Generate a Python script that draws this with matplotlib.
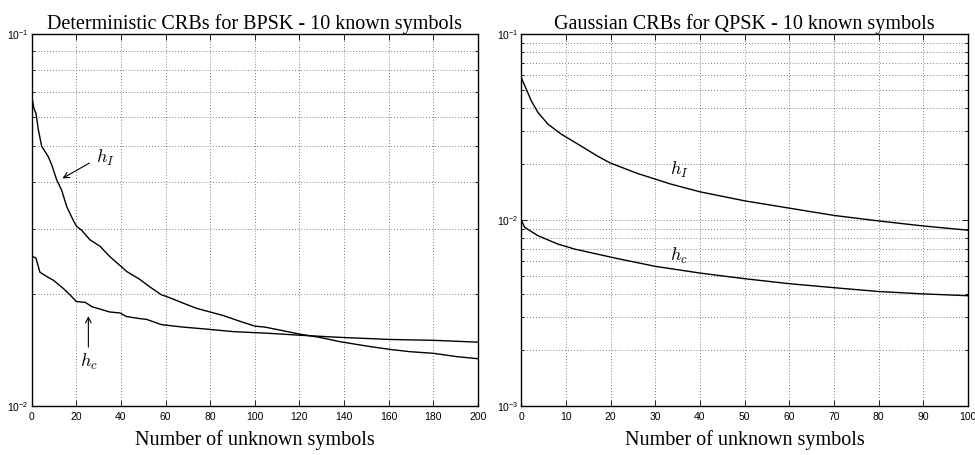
import numpy as np
import matplotlib
matplotlib.use("Agg")
import matplotlib.pyplot as plt
from matplotlib.ticker import FuncFormatter, NullFormatter, LogLocator, MultipleLocator

plt.rcParams['mathtext.fontset'] = 'cm'
plt.rcParams['font.family'] = ['Liberation Sans', 'DejaVu Sans']

# Left: Deterministic CRBs for BPSK
det_x_hI = [0, 1.0, 1.9, 3.0, 4.5, 7.4, 9.0, 11.2, 13.4, 15.7, 18.6, 20.2, 22.4, 26.1, 30.6, 35.1,
            39.5, 42.6, 48.5, 53, 58.2, 60.5, 68, 74, 80, 86, 93.3, 100, 104.6, 111.3, 120.3, 129,
            138, 150, 160.5, 169.5, 180, 190.4, 200]
det_hI = [0.068, 0.0632, 0.0613, 0.0553, 0.0499, 0.0469, 0.0445, 0.0406, 0.0381, 0.0344, 0.0316,
          0.0304, 0.0297, 0.0280, 0.0269, 0.0252, 0.0239, 0.0230, 0.0219, 0.0209, 0.0199, 0.0197,
          0.0189, 0.0183, 0.0179, 0.0175, 0.0169, 0.0164, 0.0163, 0.0160, 0.0156, 0.0153, 0.0149,
          0.0145, 0.0142, 0.0140, 0.01386, 0.01358, 0.0134]
det_x_hc = [0, 1.9, 3.7, 6.7, 9.7, 14.2, 17.2, 20, 24, 27, 35, 39.5, 42.5, 48.5, 51.5, 58.2, 68,
            78.4, 90.4, 105.3, 120.3, 138, 160.5, 180, 200]
det_hc = [0.0253, 0.0250, 0.0229, 0.0223, 0.0218, 0.0207, 0.0199, 0.0191, 0.0190, 0.0185, 0.0179,
          0.0178, 0.0174, 0.01718, 0.0171, 0.01655, 0.0163, 0.0161, 0.01585, 0.0157, 0.0155,
          0.0153, 0.0151, 0.01502, 0.01485]

# Right: Gaussian CRBs for QPSK
gau_x = [0, 1.12, 2.24, 3.74, 5.98, 8.95, 12.7, 17.2, 19.9, 25.8, 33.3, 40, 50, 60, 70, 80, 90, 100]
gau_hI = [0.0583, 0.0506, 0.0438, 0.0379, 0.0328, 0.0290, 0.0256, 0.0220, 0.0203, 0.0179, 0.01567,
          0.0142, 0.0127, 0.0116, 0.0106, 0.0099, 0.0093, 0.00883]
gau_x_hc = [0, 0.75, 3.74, 8.2, 12, 14.6, 21.4, 30, 40, 50, 60, 70, 80, 90, 100]
gau_hc = [0.0100, 0.00914, 0.00824, 0.00743, 0.00698, 0.00676, 0.00622, 0.00564, 0.00519, 0.00484,
          0.00455, 0.00433, 0.00413, 0.00401, 0.00392]

titles = ['Deterministic CRBs for BPSK - 10 known symbols', 'Gaussian CRBs for QPSK - 10 known symbols']
xlabel = 'Number of unknown symbols'

fig = plt.figure(figsize=(9.75, 4.55), dpi=100)
ax1 = fig.add_axes([0.0325, 0.1077, 0.4577, 0.817])
ax2 = fig.add_axes([0.5347, 0.1077, 0.4581, 0.817])

fmt = FuncFormatter(lambda v, p: r'$\mathregular{10^{%d}}$' % round(np.log10(v)))

def style(ax, xmax, xstep, ymin, ymax, title):
    ax.set_yscale('log')
    ax.set_xlim(0, xmax)
    ax.set_ylim(ymin, ymax)
    ax.xaxis.set_major_locator(MultipleLocator(xstep))
    ax.yaxis.set_major_locator(LogLocator(base=10))
    ax.yaxis.set_minor_locator(LogLocator(base=10, subs=np.arange(2, 10)))
    ax.yaxis.set_major_formatter(fmt)
    ax.yaxis.set_minor_formatter(NullFormatter())
    ax.tick_params(which='both', direction='in', top=True, right=True, labelsize=7.5, width=0.6)
    ax.tick_params(which='major', length=4)
    ax.tick_params(which='minor', length=2)
    ax.tick_params(axis='x', pad=4)
    ax.tick_params(axis='y', pad=2)
    ax.grid(True, which='major', axis='x', linestyle=(0, (1, 2.5)), color='#555555', linewidth=0.6)
    ax.grid(True, which='both', axis='y', linestyle=(0, (1, 2.5)), color='#555555', linewidth=0.6)
    for s in ax.spines.values():
        s.set_linewidth(1.0)
    ax.set_title(title, fontsize=14.5, family='Liberation Serif', pad=4)
    ax.set_xlabel(xlabel, fontsize=14.5, family='Liberation Serif', labelpad=6)

style(ax1, 200, 20, 1e-2, 1e-1, titles[0])
style(ax2, 100, 10, 1e-3, 1e-1, titles[1])

ax1.plot(det_x_hI, det_hI, color='black', linewidth=1.0)
ax1.plot(det_x_hc, det_hc, color='black', linewidth=1.0)
ax1.annotate('', xy=(12.7, 0.0406), xytext=(26.9, 0.0454),
             arrowprops=dict(arrowstyle='->', color='black', lw=0.8))
ax1.text(29, 0.0465, r'$h_I$', fontsize=13, va='center', ha='left')
ax1.annotate('', xy=(25.4, 0.01775), xytext=(25.4, 0.01416),
             arrowprops=dict(arrowstyle='->', color='black', lw=0.8))
ax1.text(25.5, 0.0131, r'$h_c$', fontsize=13, va='center', ha='center')

ax2.plot(gau_x, gau_hI, color='black', linewidth=1.0)
ax2.plot(gau_x_hc, gau_hc, color='black', linewidth=1.0)
ax2.text(33.3, 0.0187, r'$h_I$', fontsize=13, va='center', ha='left')
ax2.text(33.3, 0.0064, r'$h_c$', fontsize=13, va='center', ha='left')

fig.savefig('out.png', dpi=100)
